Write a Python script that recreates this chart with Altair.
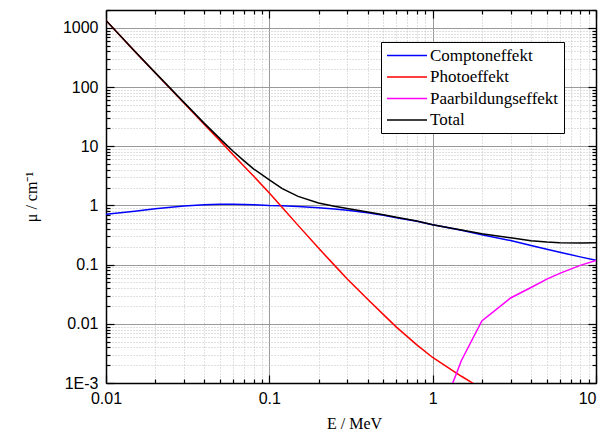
import altair as alt
import pandas as pd

# ---- data ----
E_compton = [0.01, 0.015, 0.02, 0.03, 0.04, 0.05, 0.06, 0.07, 0.08, 0.1, 0.12, 0.15, 0.2, 0.25,
             0.3, 0.4, 0.5, 0.6, 0.8, 1.0, 1.5, 2, 3, 4, 5, 6, 8, 10]
mu_compton = [0.71, 0.80, 0.88, 0.98, 1.03, 1.05, 1.05, 1.04, 1.03, 1.0, 0.99, 0.96, 0.91, 0.87,
              0.83, 0.75, 0.68, 0.62, 0.54, 0.47, 0.38, 0.32, 0.255, 0.21, 0.182, 0.162, 0.135,
              0.118]

E_photo = [0.01, 0.015, 0.02, 0.03, 0.04, 0.05, 0.06, 0.07, 0.08, 0.1, 0.12, 0.15, 0.2, 0.25,
           0.3, 0.4, 0.5, 0.6, 0.8, 1.0, 1.25, 1.5, 2.0]
mu_photo = [1330, 400, 174, 53.7, 23.3, 12.3, 7.2, 4.6, 3.13, 1.62, 0.925, 0.46, 0.19, 0.098,
            0.057, 0.026, 0.0143, 0.0088, 0.0044, 0.0027, 0.0018, 0.0013, 0.0008]

E_pair = [1.25, 1.5, 2, 3, 4, 5, 6, 8, 10]
mu_pair = [0.00065, 0.0024, 0.0112, 0.0273, 0.041, 0.057, 0.071, 0.097, 0.117]

E_total = [0.01, 0.015, 0.02, 0.03, 0.04, 0.05, 0.06, 0.07, 0.08, 0.1, 0.12, 0.15, 0.2, 0.25,
           0.3, 0.4, 0.5, 0.6, 0.8, 1.0, 1.5, 2, 3, 4, 5, 6, 8, 10]
mu_total = [1330, 401, 175, 55, 24.3, 13.3, 8.2, 5.65, 4.15, 2.7, 1.92, 1.42, 1.1, 0.97,
            0.89, 0.776, 0.695, 0.63, 0.545, 0.473, 0.383, 0.333, 0.283, 0.252, 0.24, 0.234,
            0.232, 0.235]

series = ["Comptoneffekt", "Photoeffekt", "Paarbildungseffekt", "Total"]
colors = ["#0000ff", "#ff0000", "#ff00ff", "#000000"]

x_major = [0.01, 0.1, 1, 10]
x_minor = [m * d for d in (0.01, 0.1, 1) for m in range(2, 10)]
y_major = [0.001, 0.01, 0.1, 1, 10, 100, 1000]
y_minor = [m * d for d in y_major for m in range(2, 10) if m * d <= 2000]

rows = []
for name, es, ms in [(series[0], E_compton, mu_compton), (series[1], E_photo, mu_photo),
                     (series[2], E_pair, mu_pair), (series[3], E_total, mu_total)]:
    for e, m in zip(es, ms):
        rows.append({"E": e, "mu": m, "effect": name})
df = pd.DataFrame(rows)

W, H = 490, 373
xscale = alt.Scale(type="log", domain=[0.01, 10])
yscale = alt.Scale(type="log", domain=[0.001, 2000])

SANS = "Liberation Sans"
SERIF = "Liberation Serif"

off = dict(labels=False, title=None, ticks=False, domain=False, grid=False)


def axis_layer(xaxis, yaxis):
    return alt.Chart(df).mark_point(opacity=0).encode(
        x=alt.X("E:Q", scale=xscale, axis=xaxis),
        y=alt.Y("mu:Q", scale=yscale, axis=yaxis),
    )


# minor grid
minor_grid = axis_layer(
    alt.Axis(values=x_minor, labels=False, title=None, ticks=False, domain=False,
             grid=True, gridColor="#c0c0c0", gridDash=[1, 2], gridWidth=1),
    alt.Axis(values=y_minor, labels=False, title=None, ticks=False, domain=False,
             grid=True, gridColor="#c0c0c0", gridDash=[1, 2], gridWidth=1),
)

# major grid, labels, titles, bottom/left frame
major = axis_layer(
    alt.Axis(values=x_major, orient="bottom", grid=True, gridColor="#9a9a9a", gridWidth=1,
             ticks=False, domain=True, domainColor="black", domainWidth=1.5,
             labelExpr="format(datum.value, '~g')", labelFont=SANS, labelFontSize=16,
             labelAlign={"condition": {"test": "datum.value > 5", "value": "right"},
                         "value": "center"},
             labelColor="black", labelPadding=7, labelFlush=False, labelOverlap=False,
             title="E / MeV", titleFont=SERIF, titleFontSize=16, titleFontWeight="normal",
             titleColor="black", titleX=(602 - 106) / 2, titleY=40, titleBaseline="middle"),
    alt.Axis(values=y_major, orient="left", grid=True, gridColor="#9a9a9a", gridWidth=1,
             ticks=False, domain=True, domainColor="black", domainWidth=1.5,
             labelExpr="datum.value < 0.005 ? '1E-3' : format(datum.value, '~g')",
             labelFont=SANS, labelFontSize=16, labelColor="black", labelPadding=8,
             labelFlush=False, labelOverlap=False,
             title="μ / cm⁻¹", titleFont=SERIF, titleFontSize=16, titleFontWeight="normal",
             titleColor="black", titleX=-75, titleY=H / 2, titleAngle=270,
             titleBaseline="middle", titleAlign="center"),
)


def tick_axis(values, orient, offset, size, domain):
    return alt.Axis(values=values, orient=orient, offset=offset, labels=False, title=None,
                    grid=False, ticks=True, tickSize=size, tickColor="black", tickWidth=1.2,
                    domain=domain, domainColor="black", domainWidth=1.5)


# top & right frame with inward ticks
top_right_major = axis_layer(tick_axis(x_major, "bottom", -H, 8, True),
                             tick_axis(y_major, "left", -W, 8, True))
top_right_minor = axis_layer(tick_axis(x_minor, "bottom", -H, 4, False),
                             tick_axis(y_minor, "left", -W, 4, False))
# inward ticks at bottom & left edges
bot_left_major = axis_layer(tick_axis(x_major, "top", -H, 8, False),
                            tick_axis(y_major, "right", -W, 8, False))
bot_left_minor = axis_layer(tick_axis(x_minor, "top", -H, 4, False),
                            tick_axis(y_minor, "right", -W, 4, False))

lines = alt.Chart(df).mark_line(clip=True, strokeWidth=1.5).encode(
    x=alt.X("E:Q", scale=xscale, axis=alt.Axis(**off)),
    y=alt.Y("mu:Q", scale=yscale, axis=alt.Axis(**off)),
    color=alt.Color(
        "effect:N",
        scale=alt.Scale(domain=series, range=colors),
        legend=alt.Legend(title=None, orient="none", legendX=275, legendY=32,
                          fillColor="white", strokeColor="black", padding=5,
                          symbolType="M-1.875,0H8.125", symbolSize=64, symbolStrokeWidth=1.5,
                          labelFont=SERIF, labelFontSize=17, labelColor="black",
                          labelOffset=27, rowPadding=3.5, labelLimit=300),
    ),
)

chart = alt.layer(
    minor_grid, major, top_right_major, top_right_minor, bot_left_major, bot_left_minor, lines
).resolve_axis(x="independent", y="independent").properties(
    width=W, height=H,
    autosize=alt.AutoSizeParams(type="none"),
    padding={"left": 98, "top": 2, "right": 2, "bottom": 48},
    background="white",
).configure_view(stroke=None)

chart.save("out.html", embed_options={"renderer": "svg", "actions": False})
